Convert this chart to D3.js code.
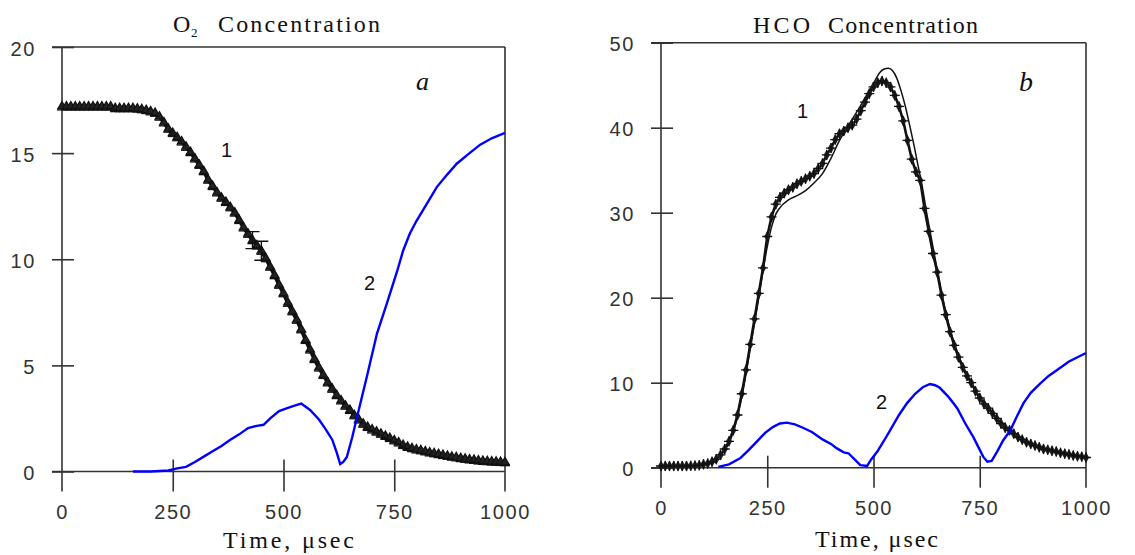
<!DOCTYPE html>
<html><head><meta charset="utf-8">
<script src="https://cdn.jsdelivr.net/npm/d3@7"></script>
<style>
html,body{margin:0;padding:0;background:#fff;}
svg{display:block;}
</style></head>
<body>
<svg id="chart" width="1135" height="555"></svg>
<script>
// ---------------- DATA ----------------
const xTicks = [0, 250, 500, 750, 1000];
const o2Ticks = [0, 5, 10, 15, 20];
const hcoTicks = [0, 10, 20, 30, 40, 50];

// Panel a: O2 concentration, curve 1 (measured, triangles + line)
const o2T = [0,10,20,30,40,50,60,70,80,90,100,110,120,130,140,150,160,170,180,190,200,210,220,230,240,250,260,270,280,290,300,310,320,330,340,350,360,370,380,390,400,410,420,430,440,450,460,470,480,490,500,510,520,530,540,550,560,570,580,590,600,610,620,630,640,650,660,670,680,690,700,710,720,730,740,750,760,770,780,790,800,810,820,830,840,850,860,870,880,890,900,910,920,930,940,950,960,970,980,990,1000];
const o2V = [17.2,17.2,17.2,17.2,17.2,17.2,17.2,17.2,17.2,17.2,17.2,17.2,17.12,17.12,17.12,17.12,17.12,17.1,17.07,17.03,16.97,16.9,16.72,16.45,16.15,15.95,15.75,15.55,15.3,15.05,14.75,14.45,14.15,13.75,13.45,13.15,12.9,12.7,12.45,12.2,11.85,11.5,11.2,10.9,10.65,10.4,10.05,9.65,9.25,8.8,8.4,7.95,7.55,7.15,6.7,6.2,5.75,5.3,4.9,4.55,4.2,3.9,3.6,3.35,3.1,2.9,2.65,2.45,2.25,2.1,1.98,1.88,1.78,1.68,1.58,1.47,1.37,1.25,1.16,1.1,1.04,1.0,0.95,0.9,0.86,0.82,0.78,0.74,0.7,0.67,0.63,0.6,0.57,0.55,0.52,0.5,0.49,0.47,0.46,0.45,0.44];
// error bars on a few points
const o2ErrT = [430, 450];
const o2ErrV = [10.9, 10.4];
const o2ErrE = [0.4, 0.45];

// Panel a: curve 2 (blue)
const o2bT = [160,200,240,260,280,300,320,340,360,380,400,420,440,455,470,490,510,525,540,560,580,595,610,620,628,635,643,655,666,688,711,733,756,770,785,800,816,846,870,891,920,944,970,1000];
const o2bV = [0,0,0.05,0.15,0.22,0.45,0.7,0.95,1.2,1.5,1.75,2.05,2.15,2.2,2.5,2.85,3.0,3.1,3.2,2.9,2.45,2.0,1.5,0.9,0.35,0.45,0.68,1.6,2.57,4.45,6.5,7.9,9.4,10.4,11.2,11.8,12.35,13.4,14.0,14.5,15.0,15.4,15.7,15.95];

// Panel b: HCO concentration, curve 1 measured (markers)
const hcoT = o2T;
const hcoV = [0.2,0.2,0.2,0.2,0.2,0.2,0.2,0.22,0.25,0.3,0.4,0.5,0.7,1.0,1.5,2.2,3.1,4.4,6.2,8.7,11.5,14.5,17.5,20.5,23.5,27.2,29.5,31.0,31.8,32.3,32.7,33.0,33.4,33.7,34.0,34.3,34.6,35.2,35.8,36.8,37.6,38.6,39.3,39.6,40.0,40.3,41.0,42.0,43.0,44.0,44.8,45.3,45.5,45.3,44.8,43.8,42.5,40.8,38.5,36.3,34.8,33.8,30.5,27.8,25.2,23.0,20.3,18.0,16.0,14.4,13.0,11.8,10.8,10.0,9.0,8.2,7.5,7.0,6.4,5.8,5.2,4.7,4.4,4.0,3.6,3.3,3.0,2.8,2.6,2.4,2.2,2.1,2.0,1.9,1.75,1.65,1.55,1.45,1.35,1.3,1.2];
// Panel b: curve 1 model (thin line)
const hcoMT = [0,100,130,150,170,190,210,230,250,260,270,280,300,320,340,360,380,400,420,440,460,480,500,515,525,535,545,555,565,575,585,595,605,615,625,635,645,655,670,690,710,730,760,800,850,900,950,1000];
const hcoMV = [0.2,0.4,1.0,2.0,4.2,8.3,14.0,20.0,26.0,28.3,29.8,30.6,31.5,32.0,32.6,33.5,34.6,36.4,38.5,40.2,41.8,43.5,45.2,46.5,46.9,47.0,46.7,45.8,44.3,42.5,40.3,38.0,35.5,33.0,30.0,27.3,24.6,22.0,18.3,14.6,12.0,10.0,7.6,5.3,3.4,2.3,1.7,1.2];
// Panel b: curve 2 (blue)
const hcobT = [135,160,186,205,226,245,264,280,296,315,334,355,381,400,413,430,441,455,469,485,495,509,525,539,560,579,598,617,633,645,656,677,697,716,735,748,758,768,778,791,805,822,837,853,870,892,912,932,960,980,1000];
const hcobV = [0.1,0.4,1.1,2.0,3.1,4.1,4.8,5.2,5.3,5.1,4.7,4.2,3.3,2.8,2.3,1.8,1.7,1.0,0.3,0.2,1.0,1.9,3.2,4.4,6.2,7.6,8.7,9.5,9.85,9.7,9.4,8.3,7.0,5.2,3.6,2.3,1.3,0.7,0.8,1.9,3.2,4.4,6.0,7.6,8.8,9.9,10.8,11.5,12.5,13.0,13.5];

// ---------------- DRAW ----------------
const svg = d3.select('#chart');
const AX = '#333';
const SANS = "'Liberation Sans', Arial, sans-serif";
const SERIF = "'Liberation Serif', 'Times New Roman', serif";

function panel(o) {
  const g = svg.append('g');
  const x = d3.scaleLinear().domain([0, 1000]).range([o.x0, o.x1]);
  const y = d3.scaleLinear().domain([0, o.ymax]).range([o.yb, o.yt]);
  const below = 20, left = 10, rightIn = 12, aboveIn = 12;

  const fr = g.append('g').attr('stroke', AX).attr('stroke-width', 1.6).attr('fill', 'none');
  fr.append('line').attr('x1', x(0)).attr('x2', x(0)).attr('y1', y(o.ymax)).attr('y2', y(0) + below);
  fr.append('line').attr('x1', x(1000)).attr('x2', x(1000)).attr('y1', y(o.ymax)).attr('y2', y(0) + below);
  fr.append('line').attr('x1', x(0) - left).attr('x2', x(1000)).attr('y1', y(0)).attr('y2', y(0));
  fr.append('line').attr('x1', x(0) - left).attr('x2', x(1000)).attr('y1', y(o.ymax)).attr('y2', y(o.ymax));

  const ya = g.append('g').attr('transform', `translate(${x(0)},0)`)
    .call(d3.axisLeft(y).tickValues(o.yTicks).tickFormat(d3.format('d')).tickSize(left).tickSizeOuter(0).tickPadding(16));
  ya.select('.domain').remove();
  ya.selectAll('.tick line').attr('x2', rightIn).attr('x1', -left).attr('stroke', AX).attr('stroke-width', 1.6);
  ya.selectAll('text').attr('font-family', SANS).attr('font-size', 20).attr('fill', '#333')
    .attr('letter-spacing', 1.6).attr('dy', '0.4em');

  const xa = g.append('g').attr('transform', `translate(0,${y(0)})`)
    .call(d3.axisBottom(x).tickValues(xTicks).tickFormat(d3.format('d')).tickSize(below).tickSizeOuter(0).tickPadding(13));
  xa.select('.domain').remove();
  xa.selectAll('.tick line').attr('y1', -aboveIn).attr('stroke', AX).attr('stroke-width', 1.6);
  xa.selectAll('.tick').filter(d => d === 0 || d === 1000).select('line').remove();
  xa.selectAll('text').attr('font-family', SANS).attr('font-size', 20).attr('fill', '#333')
    .attr('letter-spacing', 1.6);

  const line = d3.line().x(d => x(d[0])).y(d => y(d[1]));
  return { g, x, y, line };
}

function txt(x, y, s, opts) {
  const t = svg.append('text').attr('x', x).attr('y', y).attr('fill', '#111')
    .attr('font-family', opts.serif ? SERIF : SANS).attr('font-size', opts.size).text(s);
  if (opts.italic) t.attr('font-style', 'italic');
  if (opts.len) t.attr('textLength', opts.len).attr('lengthAdjust', 'spacing');
  return t;
}

// Panel a
const pa = panel({ x0: 62, x1: 505, yb: 471.5, yt: 47, ymax: 20, yTicks: o2Ticks });
{
  const { g, x, y, line } = pa;
  const pts = o2T.map((t, i) => [t, o2V[i]]);
  g.append('path').datum(pts).attr('d', line).attr('fill', 'none').attr('stroke', '#111').attr('stroke-width', 4);
  const tri = d3.symbol().type(d3.symbolTriangle).size(32);
  g.append('g').selectAll('path').data(pts).join('path')
    .attr('d', tri).attr('transform', d => `translate(${x(d[0])},${y(d[1])})`)
    .attr('fill', '#222').attr('stroke', '#111').attr('stroke-width', 1.2);
  g.append('g').selectAll('path').data(pts).join('path')
    .attr('d', d => `M${x(d[0]) - 5},${y(d[1]) + 3.5}h10`).attr('stroke', '#111').attr('stroke-width', 1.3);
  const eb = g.append('g').attr('stroke', '#111').attr('stroke-width', 1.4);
  o2ErrT.forEach((t, i) => {
    const cx = x(t), y1 = y(o2ErrV[i] + o2ErrE[i]), y2 = y(o2ErrV[i] - o2ErrE[i]);
    eb.append('path').attr('d', `M${cx},${y1}V${y2}M${cx - 7},${y1}h14M${cx - 7},${y2}h14`);
  });
  g.append('path').datum(o2bT.map((t, i) => [t, o2bV[i]])).attr('d', line)
    .attr('fill', 'none').attr('stroke', '#0000ff').attr('stroke-width', 2.4);

  txt(173, 32, 'O', { serif: true, size: 24 });
  txt(191, 37, '2', { serif: true, size: 13 });
  txt(218, 32, 'Concentration', { serif: true, size: 24, len: 162 });
  txt(223, 548, 'Time, μsec', { serif: true, size: 24, len: 131 });
  txt(416, 90, 'a', { serif: true, size: 26, italic: true });
  txt(221, 157, '1', { size: 20 });
  txt(364, 290, '2', { size: 20 });
}

// Panel b
const pb = panel({ x0: 661, x1: 1086, yb: 467.7, yt: 42.7, ymax: 50, yTicks: hcoTicks });
{
  const { g, x, y, line } = pb;
  const smooth = d3.line().x(d => x(d[0])).y(d => y(d[1])).curve(d3.curveMonotoneX);
  g.append('path').datum(hcoMT.map((t, i) => [t, hcoMV[i]])).attr('d', smooth)
    .attr('fill', 'none').attr('stroke', '#111').attr('stroke-width', 1.5);
  const pts = hcoT.map((t, i) => [t, hcoV[i]]);
  g.append('path').datum(pts).attr('d', line).attr('fill', 'none').attr('stroke', '#111').attr('stroke-width', 2.6);
  const dia = d3.symbol().type(d3.symbolDiamond).size(34);
  g.append('g').selectAll('path').data(pts).join('path')
    .attr('d', dia).attr('transform', d => `translate(${x(d[0])},${y(d[1])})`).attr('fill', '#222');
  g.append('g').selectAll('path').data(pts).join('path')
    .attr('d', d => `M${x(d[0]) - 5},${y(d[1])}h10M${x(d[0])},${y(d[1]) - 5}v10`).attr('stroke', '#111').attr('stroke-width', 1.3);
  g.append('path').datum(hcobT.map((t, i) => [t, hcobV[i]])).attr('d', line)
    .attr('fill', 'none').attr('stroke', '#0000ff').attr('stroke-width', 2.4);

  txt(753, 33, 'HCO', { serif: true, size: 24, len: 57 });
  txt(828, 33, 'Concentration', { serif: true, size: 24, len: 150 });
  txt(815, 547, 'Time, μsec', { serif: true, size: 24, len: 123 });
  txt(1019, 91, 'b', { serif: true, size: 28, italic: true });
  txt(797, 118, '1', { size: 20 });
  txt(876, 409, '2', { size: 20 });
}
</script>
</body></html>
